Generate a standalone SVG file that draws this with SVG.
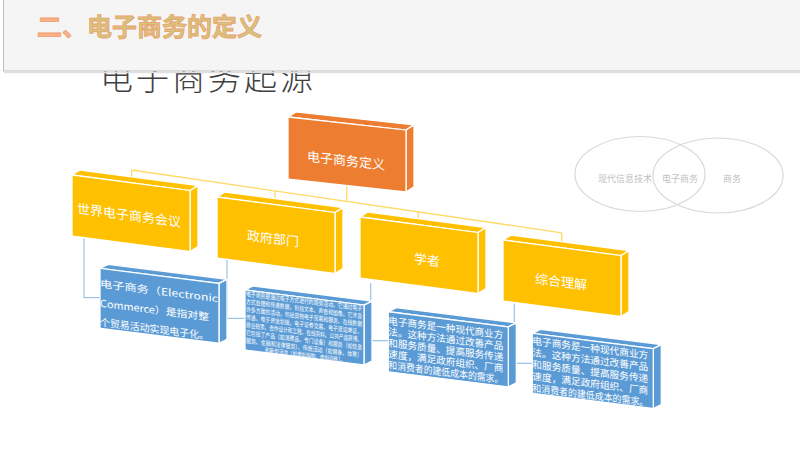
<svg xmlns="http://www.w3.org/2000/svg" width="800" height="450" viewBox="0 0 800 450">
<style>
text{font-family:"Noto Sans CJK SC","Liberation Sans",sans-serif}
.fc{stroke:#fff;stroke-width:1.3;stroke-linejoin:round}
.y{fill:#FFC000}
.o{fill:#ED7D31}
.b{fill:#5B9BD5}
.lbl{fill:#fff;font-size:13px;text-anchor:middle}
.bt{fill:#fff;font-size:10px}
.st{fill:#fff;font-size:6.5px}
.yl{stroke:#FFD966;stroke-width:1.3;fill:none}
.bl{stroke:#9DC3E6;stroke-width:1.2;fill:none}
.vn{fill:none;stroke:#D9D9D9;stroke-width:1.2}
.vt{fill:#BFBFBF;font-size:9px;text-anchor:middle}
</style>
<rect width="800" height="450" fill="#fff"/>
<text x="100" y="90" font-size="33" font-weight="300" letter-spacing="3" fill="#404040">电子商务起源</text>
<g id="header">
<rect x="3.5" y="-5" width="800" height="76" fill="#F5F5F5" stroke="#BFBFBF" stroke-width="1"/>
<line x1="4" y1="72.5" x2="800" y2="72.5" stroke="#E0E0E0" stroke-width="1.5"/>
<text x="37" y="35.5" font-size="25" font-weight="bold" stroke-width="0.8"><tspan fill="#F7B28A" stroke="#F29A67">二、</tspan><tspan fill="#D2C47E" stroke="#EFA06A">电子商务的定义</tspan></text>
</g>
<g id="connectors">
<path class="yl" d="M131.7,170 L561.7,232.8 M131.7,170 V177 M346.7,185.5 V201.4 M275,190.9 V198.6 M418.3,211.8 V218.6 M561.7,232.8 V241.7"/>
<path class="bl" d="M84,237.6 V297.7 H100 M227,257.4 V318.3 H245 M370.7,283 V340.7 H388 M514.3,303.5 V363.3 H532"/>
</g>
<g id="n-root" transform="translate(288,117) skewY(6.3)">
<polygon class="fc o" points="0,0 8,-6 126,-6 118,0"/>
<polygon class="fc o" points="118,0 126,-6 126,56 118,62"/>
<rect class="fc o" x="0" y="0" width="118" height="62"/>
<text class="lbl" x="58" y="42" font-size="14.5">电子商务定义</text>
</g>
<g id="n-world" transform="translate(72,175) skewY(7.5)">
<polygon class="fc y" points="0,0 8,-6 126,-6 118,0"/>
<polygon class="fc y" points="118,0 126,-6 126,55 118,61"/>
<rect class="fc y" x="0" y="0" width="118" height="61"/>
<text class="lbl" x="57" y="37.5">世界电子商务会议</text>
</g>
<g id="n-gov" transform="translate(217,197) skewY(7.5)">
<polygon class="fc y" points="0,0 8,-6 126,-6 118,0"/>
<polygon class="fc y" points="118,0 126,-6 126,55 118,61"/>
<rect class="fc y" x="0" y="0" width="118" height="61"/>
<text class="lbl" x="56" y="39">政府部门</text>
</g>
<g id="n-scholar" transform="translate(360,217) skewY(7.5)">
<polygon class="fc y" points="0,0 8,-6 126,-6 118,0"/>
<polygon class="fc y" points="118,0 126,-6 126,55 118,61"/>
<rect class="fc y" x="0" y="0" width="118" height="61"/>
<text class="lbl" x="67" y="39">学者</text>
</g>
<g id="n-overall" transform="translate(503,240) skewY(7.5)">
<polygon class="fc y" points="0,0 8,-6 126,-6 118,0"/>
<polygon class="fc y" points="118,0 126,-6 126,55 118,61"/>
<rect class="fc y" x="0" y="0" width="118" height="61"/>
<text class="lbl" x="58" y="39">综合理解</text>
</g>
<g id="d-world" transform="translate(100,268.3) skewY(7.2)">
<polygon class="fc b" points="0,0 8,-5 127,-5 119,0"/>
<polygon class="fc b" points="119,0 127,-5 127,55 119,60"/>
<rect class="fc b" x="0" y="0" width="119" height="60"/>
<text class="bt" font-size="11" x="0" y="19" textLength="118" lengthAdjust="spacingAndGlyphs">电子商务（Electronic</text>
<text class="bt" font-size="11" x="0" y="38.5" textLength="109" lengthAdjust="spacingAndGlyphs">Commerce）是指对整</text>
<text class="bt" font-size="11" x="0" y="57.5" textLength="109" lengthAdjust="spacingAndGlyphs">个贸易活动实现电子化。</text>
</g>
<g id="d-gov" transform="translate(245,290) skewY(7.2)">
<polygon class="fc b" points="0,0 8,-5 127,-5 119,0"/>
<polygon class="fc b" points="119,0 127,-5 127,55 119,60"/>
<rect class="fc b" x="0" y="0" width="119" height="60"/>
<text class="st" x="1" y="6" textLength="116" lengthAdjust="spacingAndGlyphs">电子商务是通过电子方式进行的商务活动。它通过电子</text>
<text class="st" x="1" y="13.8" textLength="116" lengthAdjust="spacingAndGlyphs">方式处理和传递数据，包括文本、声音和图像。它涉及</text>
<text class="st" x="1" y="21.6" textLength="116" lengthAdjust="spacingAndGlyphs">许多方面的活动，包括货物电子贸易和服务、在线数据</text>
<text class="st" x="1" y="29.4" textLength="116" lengthAdjust="spacingAndGlyphs">传递、电子资金划拨、电子证券交易、电子货运单证、</text>
<text class="st" x="1" y="37.2" textLength="116" lengthAdjust="spacingAndGlyphs">商业拍卖、合作设计和工程、在线资料、公共产品获得。</text>
<text class="st" x="1" y="45" textLength="116" lengthAdjust="spacingAndGlyphs">它包括了产品（如消费品、专门设备）和服务（如信息</text>
<text class="st" x="1" y="52.8" textLength="116" lengthAdjust="spacingAndGlyphs">服务、金融和法律服务）、传统活动（如健身、体育）</text>
<text class="st" x="20" y="60" textLength="80" lengthAdjust="spacingAndGlyphs">和新型活动（如虚拟购物、虚拟训练）。</text>
</g>
<g id="d-scholar" transform="translate(388.3,311.7) skewY(7.2)">
<polygon class="fc b" points="0,0 8,-5 128,-5 120,0"/>
<polygon class="fc b" points="120,0 128,-5 128,55 120,60"/>
<rect class="fc b" x="0" y="0" width="120" height="60"/>
<text class="bt" x="0" y="12.5" textLength="115" lengthAdjust="spacingAndGlyphs">电子商务是一种现代商业方</text>
<text class="bt" x="0" y="23.6" textLength="115" lengthAdjust="spacingAndGlyphs">法。这种方法通过改善产品</text>
<text class="bt" x="0" y="34.7" textLength="115" lengthAdjust="spacingAndGlyphs">和服务质量、提高服务传递</text>
<text class="bt" x="0" y="45.8" textLength="115" lengthAdjust="spacingAndGlyphs">速度，满足政府组织、厂商</text>
<text class="bt" x="0" y="56.9" textLength="115" lengthAdjust="spacingAndGlyphs">和消费者的建低成本的需求。</text>
</g>
<g id="d-overall" transform="translate(532.3,333.3) skewY(7.2)">
<polygon class="fc b" points="0,0 8,-5 129,-5 121,0"/>
<polygon class="fc b" points="121,0 129,-5 129,55 121,60"/>
<rect class="fc b" x="0" y="0" width="121" height="60"/>
<text class="bt" x="0" y="11" textLength="116" lengthAdjust="spacingAndGlyphs">电子商务是一种现代商业方</text>
<text class="bt" x="0" y="22.8" textLength="116" lengthAdjust="spacingAndGlyphs">法。这种方法通过改善产品</text>
<text class="bt" x="0" y="34.6" textLength="116" lengthAdjust="spacingAndGlyphs">和服务质量、提高服务传递</text>
<text class="bt" x="0" y="46.4" textLength="116" lengthAdjust="spacingAndGlyphs">速度，满足政府组织、厂商</text>
<text class="bt" x="0" y="58.2" textLength="116" lengthAdjust="spacingAndGlyphs">和消费者的建低成本的需求。</text>
</g>
<g id="venn">
<ellipse class="vn" cx="640" cy="174" rx="65" ry="37.5"/>
<ellipse class="vn" cx="718" cy="175.5" rx="65" ry="37.5"/>
<text class="vt" x="625" y="181.5">现代信息技术</text>
<text class="vt" x="680" y="181.5">电子商务</text>
<text class="vt" x="732" y="181.5">商务</text>
</g>
</svg>
